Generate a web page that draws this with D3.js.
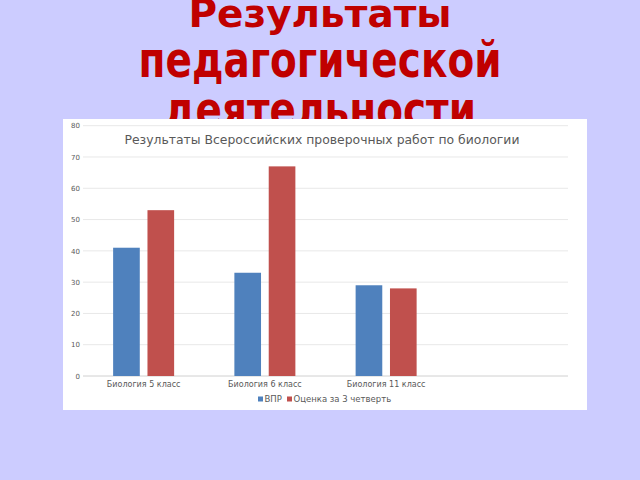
<!DOCTYPE html>
<html lang="ru">
<head>
    <meta charset="UTF-8">
    <title>Результаты педагогической деятельности</title>
    <style>
        html, body { margin: 0; padding: 0; background: #ccccff; }
        svg { display: block; }
    </style>
</head>
<body>
    <div id="chart"></div>

    <script src="https://cdnjs.cloudflare.com/ajax/libs/d3/7.8.5/d3.min.js"></script>
    <script>
        // data
        var categories = ["Биология 5 класс", "Биология 6 класс", "Биология 11 класс", ""];
        var seriesNames = ["ВПР", "Оценка за 3 четверть"];
        var vprValues = [41, 33, 29, null];
        var gradeValues = [53, 67, 28, null];
        var yTicks = [0, 10, 20, 30, 40, 50, 60, 70, 80];

        var colors = ["#4f81bd", "#c0504d"];

        function drawChart() {
            const width = 640, height = 480;
            const svg = d3.select("#chart")
                .append("svg")
                .attr("width", width)
                .attr("height", height);

            svg.append("rect")
                .attr("width", width)
                .attr("height", height)
                .attr("fill", "#ccccff");

            // slide heading - lower two lines come out taller on the slide
            const heading = ["Результаты", "педагогической", "деятельности"];
            const baselines = [27, 77, 127];
            const stretch = [1, 1.26, 1.26];
            svg.append("g")
                .selectAll("text")
                .data(heading)
                .join("text")
                .attr("transform", (d, i) => `translate(320,${baselines[i]}) scale(1,${stretch[i]})`)
                .attr("text-anchor", "middle")
                .style("font-family", "DejaVu Sans")
                .style("font-weight", "bold")
                .style("font-size", "39px")
                .attr("fill", "#c00000")
                .text(d => d);

            // chart box sits over the heading's last line
            svg.append("rect")
                .attr("x", 63)
                .attr("y", 119)
                .attr("width", 524)
                .attr("height", 291)
                .attr("fill", "white");

            const left = 83, right = 568, top = 125.7, bottom = 376;

            const x = d3.scaleBand()
                .domain(d3.range(categories.length))
                .range([left, right]);

            const y = d3.scaleLinear()
                .domain([0, 80])
                .range([bottom, top]);

            const grid = svg.append("g");
            grid.selectAll("line")
                .data(yTicks)
                .join("line")
                .attr("x1", left)
                .attr("x2", right)
                .attr("y1", d => y(d))
                .attr("y2", d => y(d))
                .attr("stroke", d => d === 0 ? "#d0d0d0" : "#e8e8e8")
                .attr("stroke-width", 1);

            const yAxis = svg.append("g")
                .attr("transform", `translate(${left},0)`)
                .call(d3.axisLeft(y).tickValues(yTicks).tickSize(0).tickPadding(3));
            yAxis.select(".domain").remove();
            yAxis.selectAll("text")
                .style("font-family", "DejaVu Sans")
                .style("font-size", "7px")
                .attr("fill", "#595959");

            const xAxis = svg.append("g")
                .attr("transform", `translate(0,${bottom})`)
                .call(d3.axisBottom(x).tickFormat(i => categories[i]).tickSize(0).tickPadding(5));
            xAxis.select(".domain").remove();
            xAxis.selectAll("text")
                .style("font-family", "DejaVu Sans")
                .style("font-size", "8px")
                .attr("fill", "#595959");

            const groupWidth = 61;
            const inner = d3.scaleBand()
                .domain([0, 1])
                .range([0, groupWidth])
                .paddingInner(0.224);

            const series = [vprValues, gradeValues];
            series.forEach(function (vals, s) {
                svg.append("g")
                    .selectAll("rect")
                    .data(vals.map((v, i) => ({ v: v, i: i })).filter(d => d.v !== null))
                    .join("rect")
                    .attr("x", d => x(d.i) + (x.bandwidth() - groupWidth) / 2 + inner(s))
                    .attr("y", d => y(d.v))
                    .attr("width", inner.bandwidth())
                    .attr("height", d => bottom - y(d.v))
                    .attr("fill", colors[s]);
            });

            svg.append("text")
                .attr("x", 322)
                .attr("y", 144)
                .attr("text-anchor", "middle")
                .style("font-family", "DejaVu Sans")
                .style("font-size", "12.4px")
                .attr("fill", "#595959")
                .text("Результаты Всероссийских проверочных работ по биологии");

            // legend
            const legend = svg.append("g").attr("transform", "translate(258,402)");
            const offsets = [0, 29];
            seriesNames.forEach(function (name, s) {
                legend.append("rect")
                    .attr("x", offsets[s])
                    .attr("y", -5.5)
                    .attr("width", 5)
                    .attr("height", 5)
                    .attr("fill", colors[s]);
                legend.append("text")
                    .attr("x", offsets[s] + 6.5)
                    .attr("y", 0)
                    .style("font-family", "DejaVu Sans")
                    .style("font-size", "8.5px")
                    .attr("fill", "#595959")
                    .text(name);
            });
        }

        drawChart();
    </script>
</body>
</html>
